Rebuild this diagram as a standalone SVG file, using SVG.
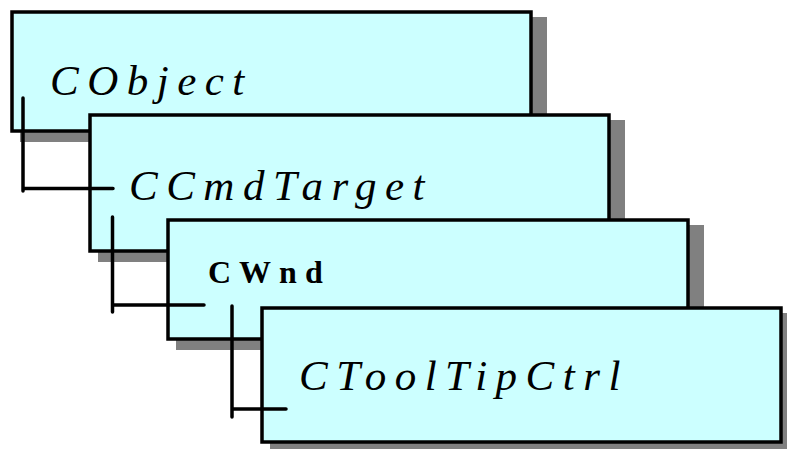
<svg xmlns="http://www.w3.org/2000/svg" width="787" height="449" viewBox="0 0 787 449">
  <style>
    .shadow { fill: #808080; }
    .box { fill: #CCFFFF; stroke: #000; stroke-width: 3.5; }
    .name { font-family: "Liberation Serif", "Times New Roman", serif; font-size: 43px; font-style: italic; letter-spacing: 8.5px; fill: #000; }
    .bold { font-family: "Liberation Serif", "Times New Roman", serif; font-size: 32px; font-weight: bold; letter-spacing: 8px; fill: #000; }
    .link { fill: none; stroke: #000; stroke-width: 3.5; stroke-linecap: round; }
  </style>

  <g id="cobject">
    <rect class="shadow" x="20" y="17" width="527" height="125"/>
    <rect class="box" x="12" y="12" width="519" height="119"/>
    <text class="name" x="50" y="95">CObject</text>
  </g>

  <g id="ccmdtarget">
    <rect class="shadow" x="98" y="120" width="527" height="142"/>
    <rect class="box" x="90" y="115" width="519" height="136"/>
    <text class="name" x="129" y="200">CCmdTarget</text>
  </g>

  <g id="cwnd">
    <rect class="shadow" x="176" y="225" width="528" height="125"/>
    <rect class="box" x="168" y="220" width="520" height="119"/>
    <text class="bold" x="208" y="283">CWnd</text>
  </g>

  <g id="ctooltipctrl">
    <rect class="shadow" x="270" y="313" width="527" height="140"/>
    <rect class="box" x="262" y="308" width="519" height="134"/>
    <text class="name" x="299" y="390">CToolTipCtrl</text>
  </g>

  <g id="connectors">
    <path class="link" d="M23,98 V191 M23,188.5 H113"/>
    <path class="link" d="M112.5,217 V312 M112.5,305 H204"/>
    <path class="link" d="M232,306 V417 M232,409 H286"/>
  </g>
</svg>
